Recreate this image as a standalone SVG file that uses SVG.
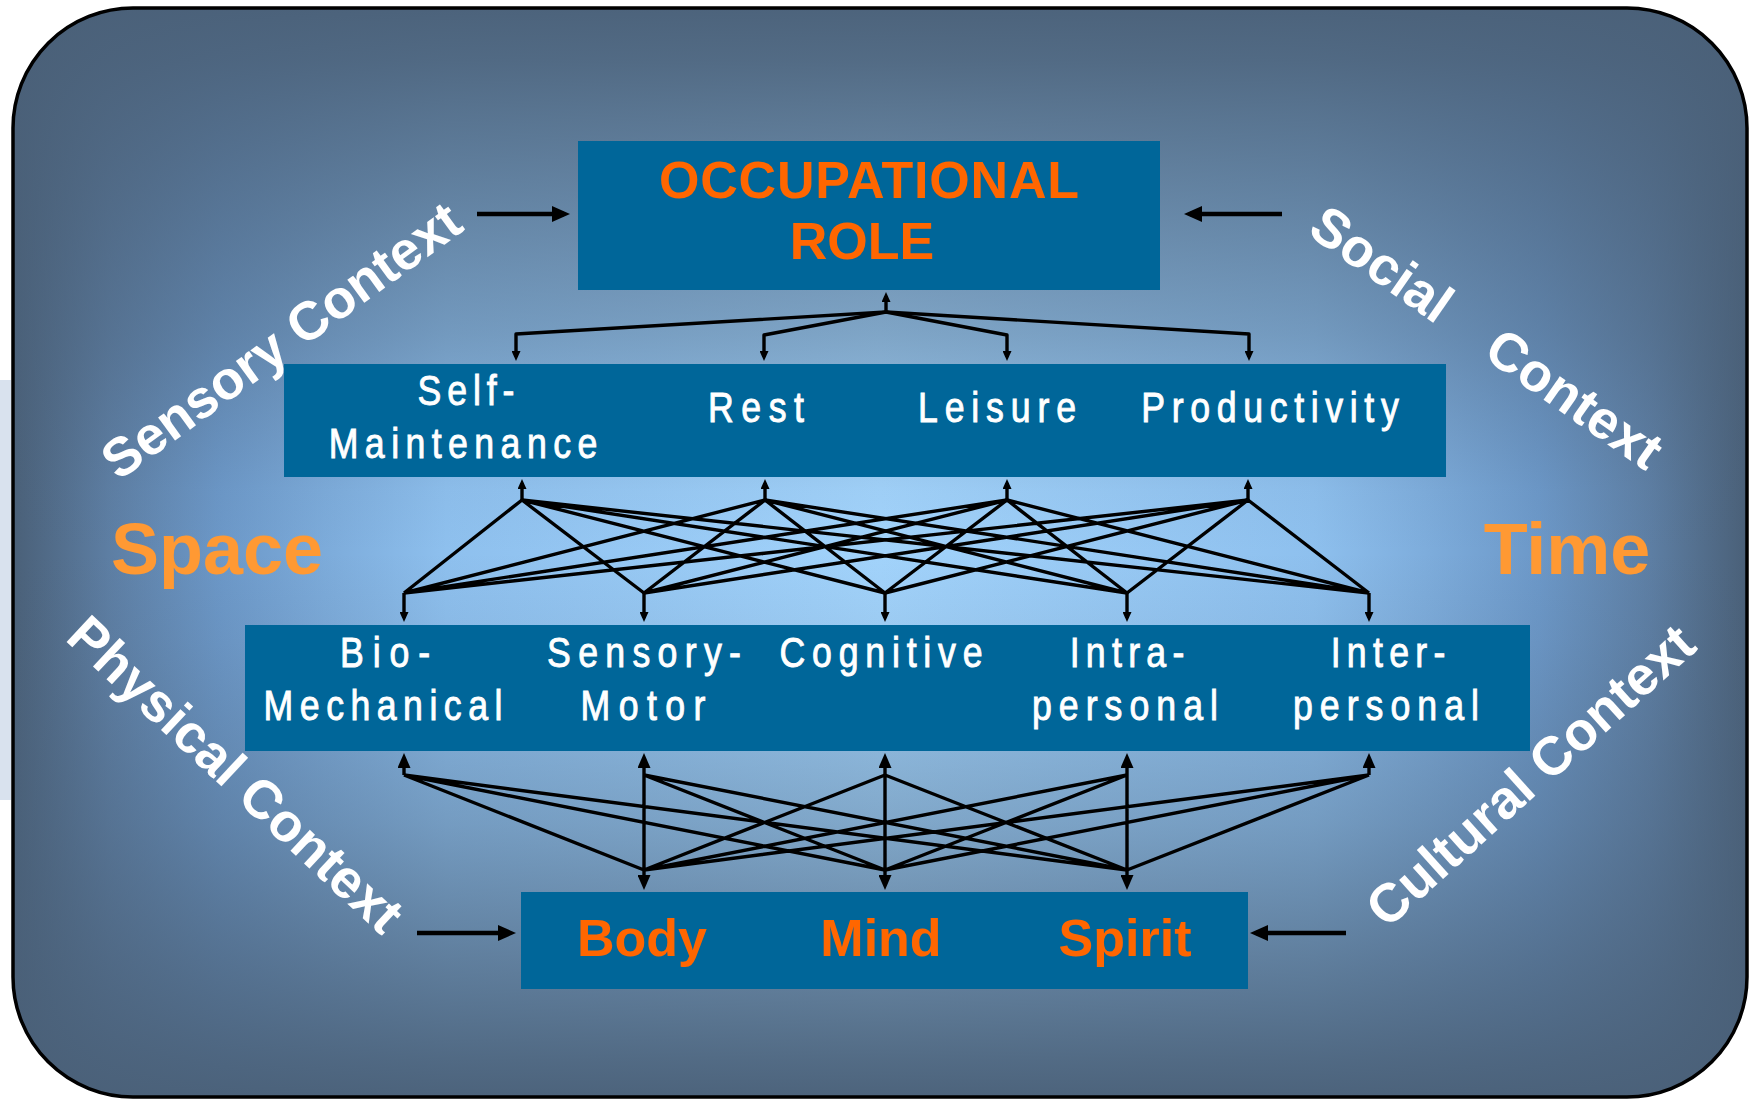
<svg xmlns="http://www.w3.org/2000/svg" width="1749" height="1101" viewBox="0 0 1749 1101">
  <style>
    text { font-family: "Liberation Sans", Arial, Helvetica, sans-serif; }
    .box { fill: #006699; }
    .lbl { fill: #ffffff; stroke: #ffffff; stroke-width: 0.9; font-size: 42px; text-anchor: middle; }
    .hot { fill: #ff6600; font-weight: bold; text-anchor: middle; }
    .ctx { fill: #ffffff; font-size: 54px; font-weight: bold; text-anchor: middle; }
    .dim { fill: #ff9933; font-size: 72px; font-weight: bold; text-anchor: middle; }
    .link { fill: none; stroke: #000000; stroke-width: 3.4; stroke-linejoin: round; }
    .feed { fill: none; stroke: #000000; stroke-width: 4.5; }
  </style>
  <defs>
    <!-- horizontal falloff: light centre, slate edges -->
    <linearGradient id="bg-x" gradientUnits="userSpaceOnUse" x1="13" y1="0" x2="1747" y2="0">
      <stop offset="0" stop-color="#4a6078"/>
      <stop offset="0.055" stop-color="#5d7ea3"/>
      <stop offset="0.12" stop-color="#6c98c8"/>
      <stop offset="0.186" stop-color="#7eaddc"/>
      <stop offset="0.25" stop-color="#8ec0ee"/>
      <stop offset="0.5" stop-color="#a2d3fb"/>
      <stop offset="0.75" stop-color="#8ec0ee"/>
      <stop offset="0.814" stop-color="#7eaddc"/>
      <stop offset="0.88" stop-color="#6c98c8"/>
      <stop offset="0.945" stop-color="#5d7ea3"/>
      <stop offset="1" stop-color="#4a6078"/>
    </linearGradient>
    <!-- vertical darkening towards top and bottom -->
    <linearGradient id="bg-y" gradientUnits="userSpaceOnUse" x1="0" y1="8" x2="0" y2="1097">
      <stop offset="0" stop-color="#4a6078" stop-opacity="0.97"/>
      <stop offset="0.048" stop-color="#4a6078" stop-opacity="0.9"/>
      <stop offset="0.095" stop-color="#4a6078" stop-opacity="0.8"/>
      <stop offset="0.176" stop-color="#4a6078" stop-opacity="0.64"/>
      <stop offset="0.3" stop-color="#4a6078" stop-opacity="0.4"/>
      <stop offset="0.378" stop-color="#4a6078" stop-opacity="0.2"/>
      <stop offset="0.443" stop-color="#4a6078" stop-opacity="0.04"/>
      <stop offset="0.5" stop-color="#4a6078" stop-opacity="0"/>
      <stop offset="0.579" stop-color="#4a6078" stop-opacity="0.08"/>
      <stop offset="0.681" stop-color="#4a6078" stop-opacity="0.26"/>
      <stop offset="0.749" stop-color="#4a6078" stop-opacity="0.38"/>
      <stop offset="0.864" stop-color="#4a6078" stop-opacity="0.66"/>
      <stop offset="0.966" stop-color="#4a6078" stop-opacity="0.9"/>
      <stop offset="1" stop-color="#4a6078" stop-opacity="0.97"/>
    </linearGradient>
    <clipPath id="panel-clip">
      <rect x="13" y="8" width="1734" height="1089" rx="120" ry="120"/>
    </clipPath>
    <marker id="tip-s" viewBox="0 0 10 9" refX="6" refY="4.5" markerWidth="10" markerHeight="9" markerUnits="userSpaceOnUse" orient="auto">
      <path d="M0,0 L10,4.5 L0,9 z" fill="#000"/>
    </marker>
    <marker id="tip-m" viewBox="0 0 15 13" refX="10" refY="6.5" markerWidth="15" markerHeight="13" markerUnits="userSpaceOnUse" orient="auto">
      <path d="M0,0 L15,6.5 L0,13 z" fill="#000"/>
    </marker>
    <marker id="tip-l" viewBox="0 0 18 16" refX="12" refY="8" markerWidth="18" markerHeight="16" markerUnits="userSpaceOnUse" orient="auto">
      <path d="M0,0 L18,8 L0,16 z" fill="#000"/>
    </marker>
  </defs>

  <!-- page -->
  <rect x="0" y="0" width="1749" height="1101" fill="#ffffff"/>
  <rect x="0" y="380" width="11" height="420" fill="#d9e2ee"/>

  <!-- backdrop panel -->
  <g id="panel">
    <g clip-path="url(#panel-clip)">
      <rect x="13" y="8" width="1734" height="1089" fill="url(#bg-x)"/>
      <rect x="13" y="8" width="1734" height="1089" fill="url(#bg-y)"/>
    </g>
    <rect x="13" y="8" width="1734" height="1089" rx="120" ry="120" fill="none" stroke="#000000" stroke-width="3.5"/>
  </g>

  <!-- dimensions -->
  <text id="space" class="dim" x="217" y="574">Space</text>
  <text id="time" class="dim" x="1567" y="574">Time</text>

  <!-- environmental contexts -->
  <g id="sensory-context">
    <text class="ctx" transform="translate(281 340) rotate(-36)" y="19">Sensory Context</text>
  </g>
  <g id="social-context">
    <text class="ctx" transform="translate(1487 337) rotate(35)" y="19">Social<tspan dx="40"> Context</tspan></text>
  </g>
  <g id="physical-context">
    <text class="ctx" transform="translate(236 774) rotate(43)" y="19">Physical Context</text>
  </g>
  <g id="cultural-context">
    <text class="ctx" transform="translate(1530 775) rotate(-42)" y="19">Cultural Context</text>
  </g>

  <!-- connectors -->
  <g id="connectors">
    <!-- contexts feeding role and person -->
    <path class="feed" d="M477,214 H564" marker-end="url(#tip-l)"/>
    <path class="feed" d="M1282,214 H1190" marker-end="url(#tip-l)"/>
    <path class="feed" d="M417,933 H510" marker-end="url(#tip-l)"/>
    <path class="feed" d="M1346,933 H1256" marker-end="url(#tip-l)"/>

    <!-- role to occupations -->
    <path class="link" d="M886,312 V296" marker-end="url(#tip-s)"/>
    <path class="link" d="M886,312 L516,334 V357" marker-end="url(#tip-s)"/>
    <path class="link" d="M886,312 L764,335 V357" marker-end="url(#tip-s)"/>
    <path class="link" d="M886,312 L1007,335 V357" marker-end="url(#tip-s)"/>
    <path class="link" d="M886,312 L1249,334 V357" marker-end="url(#tip-s)"/>

    <!-- occupations to performance components -->
    <path class="link" d="M522,500 V483" marker-end="url(#tip-s)"/>
    <path class="link" d="M765,500 V483" marker-end="url(#tip-s)"/>
    <path class="link" d="M1007,500 V483" marker-end="url(#tip-s)"/>
    <path class="link" d="M1248,500 V483" marker-end="url(#tip-s)"/>
    <path class="link" d="M522,500 L404,593 M522,500 L644,593 M522,500 L885,593 M522,500 L1127,593 M522,500 L1369,593
                          M765,500 L404,593 M765,500 L644,593 M765,500 L885,593 M765,500 L1127,593 M765,500 L1369,593
                          M1007,500 L404,593 M1007,500 L644,593 M1007,500 L885,593 M1007,500 L1127,593 M1007,500 L1369,593
                          M1248,500 L404,593 M1248,500 L644,593 M1248,500 L885,593 M1248,500 L1127,593 M1248,500 L1369,593"/>
    <path class="link" d="M404,593 V618" marker-end="url(#tip-s)"/>
    <path class="link" d="M644,593 V618" marker-end="url(#tip-s)"/>
    <path class="link" d="M885,593 V618" marker-end="url(#tip-s)"/>
    <path class="link" d="M1127,593 V618" marker-end="url(#tip-s)"/>
    <path class="link" d="M1369,593 V618" marker-end="url(#tip-s)"/>

    <!-- performance components to person -->
    <path class="link" d="M404,775 V758" marker-end="url(#tip-m)"/>
    <path class="link" d="M644,775 V758" marker-end="url(#tip-m)"/>
    <path class="link" d="M885,775 V758" marker-end="url(#tip-m)"/>
    <path class="link" d="M1127,775 V758" marker-end="url(#tip-m)"/>
    <path class="link" d="M1369,775 V758" marker-end="url(#tip-m)"/>
    <path class="link" d="M404,775 L644,870 M404,775 L885,870 M404,775 L1127,870
                          M644,775 L644,870 M644,775 L885,870 M644,775 L1127,870
                          M885,775 L644,870 M885,775 L885,870 M885,775 L1127,870
                          M1127,775 L644,870 M1127,775 L885,870 M1127,775 L1127,870
                          M1369,775 L644,870 M1369,775 L885,870 M1369,775 L1127,870"/>
    <path class="link" d="M644,870 V885" marker-end="url(#tip-m)"/>
    <path class="link" d="M885,870 V885" marker-end="url(#tip-m)"/>
    <path class="link" d="M1127,870 V885" marker-end="url(#tip-m)"/>
  </g>

  <!-- occupational role -->
  <g id="occupational-role">
    <rect class="box" x="578" y="141" width="582" height="149"/>
    <text class="hot" x="869" y="198" font-size="52" textLength="420">OCCUPATIONAL</text>
    <text class="hot" x="862" y="259" font-size="52">ROLE</text>
  </g>

  <!-- occupations -->
  <g id="occupations">
    <rect class="box" x="284" y="364" width="1162" height="113"/>
    <text class="lbl" transform="translate(466 405) scale(0.85 1)" textLength="114">Self-</text>
    <text class="lbl" transform="translate(463 458) scale(0.85 1)" textLength="316">Maintenance</text>
    <text class="lbl" transform="translate(756 422) scale(0.85 1)" textLength="113">Rest</text>
    <text class="lbl" transform="translate(997 422) scale(0.85 1)" textLength="186">Leisure</text>
    <text class="lbl" transform="translate(1270 422) scale(0.85 1)" textLength="303">Productivity</text>
  </g>

  <!-- performance components -->
  <g id="performance-components">
    <rect class="box" x="245" y="625" width="1285" height="126"/>
    <text class="lbl" transform="translate(385 667) scale(0.85 1)" textLength="106">Bio-</text>
    <text class="lbl" transform="translate(383 720) scale(0.85 1)" textLength="281">Mechanical</text>
    <text class="lbl" transform="translate(644 667) scale(0.85 1)" textLength="228">Sensory-</text>
    <text class="lbl" transform="translate(643 720) scale(0.85 1)" textLength="147">Motor</text>
    <text class="lbl" transform="translate(881 667) scale(0.85 1)" textLength="239">Cognitive</text>
    <text class="lbl" transform="translate(1127 667) scale(0.85 1)" textLength="135">Intra-</text>
    <text class="lbl" transform="translate(1125 720) scale(0.85 1)" textLength="219">personal</text>
    <text class="lbl" transform="translate(1388 667) scale(0.85 1)" textLength="135">Inter-</text>
    <text class="lbl" transform="translate(1386 720) scale(0.85 1)" textLength="219">personal</text>
  </g>

  <!-- person -->
  <g id="person">
    <rect class="box" x="521" y="892" width="727" height="97"/>
    <text class="hot" x="642" y="956" font-size="52">Body</text>
    <text class="hot" x="881" y="956" font-size="52">Mind</text>
    <text class="hot" x="1125" y="956" font-size="52">Spirit</text>
  </g>
</svg>
